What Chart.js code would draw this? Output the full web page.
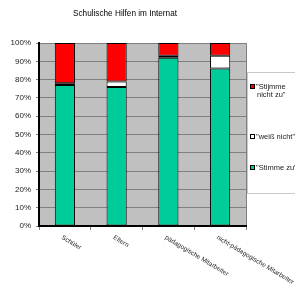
<!DOCTYPE html>
<html>
<head>
<meta charset="utf-8">
<script src="https://cdn.jsdelivr.net/npm/chart.js@4.4.0/dist/chart.umd.min.js"></script>
<style>
  html, body { margin: 0; padding: 0; background: #fff; }
  #wrap { width: 295px; height: 284px; position: relative; }
</style>
</head>
<body>
<div id="wrap"><canvas id="chart"></canvas></div>
<script>
// Daten
const kategorien = ['Schüler', 'Eltern', 'pädagogische Mitarbeiter', 'nicht-pädagogische Mitarbeiter'];
const stimmeZu = [77, 76, 92, 86];
const weissNicht = [1, 3, 1, 7];
const stimmeNichtZu = [22, 21, 7, 7];
const yTicks = ['0%', '10%', '20%', '30%', '40%', '50%', '60%', '70%', '80%', '90%', '100%'];
const legendeTexte = [['"Stijmme', 'nicht zu"'], ['"weiß nicht"'], ['"Stimme zu"']];
const titel = 'Schulische Hilfen im Internat';

const farben = {
    gruen: '#00cc99',
    weiss: '#ffffff',
    rot: '#ff0000',
    flaeche: '#c0c0c0',
    gitter: '#7f7f7f'
};

// Hintergrund der Zeichenfläche
const flaechePlugin = {
    id: 'flaeche',
    beforeDraw(chart) {
        const { ctx, chartArea: a } = chart;
        ctx.save();
        ctx.fillStyle = farben.flaeche;
        ctx.fillRect(a.left, a.top, a.right - a.left, a.bottom - a.top);
        ctx.strokeStyle = farben.gitter;
        ctx.lineWidth = 1;
        ctx.beginPath();
        ctx.moveTo(a.right + 0.5, a.top);
        ctx.lineTo(a.right + 0.5, a.bottom);
        ctx.stroke();
        ctx.restore();
    }
};

// Titel, schräge Kategorien und Legende
const textPlugin = {
    id: 'texte',
    afterDraw(chart) {
        const { ctx, chartArea: a } = chart;
        const x = chart.scales.x;
        ctx.save();
        ctx.fillStyle = '#000';

        // Titel (schmale Schrift)
        ctx.font = '9px "Liberation Sans", sans-serif';
        ctx.textAlign = 'center';
        ctx.textBaseline = 'middle';
        const breite = ctx.measureText(titel).width;
        ctx.save();
        ctx.translate(125, 14);
        ctx.scale(104 / breite, 1);
        ctx.fillText(titel, 0, 0);
        ctx.restore();

        ctx.font = '6.5px "Liberation Sans", sans-serif';
        ctx.fillStyle = '#222';
        ctx.textAlign = 'left';
        kategorien.forEach((k, i) => {
            ctx.save();
            ctx.translate(x.getPixelForValue(i) - 3, a.bottom + 11);
            ctx.rotate(31 * Math.PI / 180);
            ctx.fillText(k, 0, 0);
            ctx.restore();
        });

        // Legende
        ctx.strokeStyle = '#c8c8c8';
        ctx.lineWidth = 1;
        ctx.strokeRect(247.5, 72.5, 60, 121);
        const reihen = chart.data.datasets.slice().reverse();
        const posY = [87, 137, 168];
        ctx.font = '7.5px "Liberation Sans", sans-serif';
        ctx.textBaseline = 'middle';
        reihen.forEach((ds, i) => {
            const y = posY[i];
            ctx.fillStyle = ds.backgroundColor;
            ctx.fillRect(250, y - 2, 4, 4);
            ctx.strokeStyle = '#000';
            ctx.strokeRect(250.5, y - 2.5, 4, 4);
            ctx.fillStyle = '#222';
            legendeTexte[i].forEach((z, j) => {
                ctx.fillText(z, j === 0 ? 256 : 257, y + j * 8);
            });
        });
        ctx.restore();
    }
};

const datensatz = (label, data, farbe) => ({
    label: label,
    data: data,
    backgroundColor: farbe,
    borderColor: '#000',
    borderWidth: 1,
    borderSkipped: false,
    categoryPercentage: 1,
    barPercentage: 0.39
});

new Chart(document.getElementById('chart'), {
    type: 'bar',
    data: {
        labels: kategorien,
        datasets: [
            datensatz('"Stimme zu"', stimmeZu, farben.gruen),
            datensatz('"weiß nicht"', weissNicht, farben.weiss),
            datensatz('"Stijmme nicht zu"', stimmeNichtZu, farben.rot)
        ]
    },
    options: {
        responsive: true,
        maintainAspectRatio: false,
        animation: false,
        layout: { padding: { left: 0, top: 43, right: 49, bottom: 0 } },
        plugins: {
            legend: { display: false },
            title: { display: false },
            tooltip: { enabled: false }
        },
        scales: {
            x: {
                stacked: true,
                ticks: { display: false },
                grid: { drawOnChartArea: false, drawTicks: true, tickLength: 4, color: farben.gitter, offset: true },
                border: { color: '#000', width: 2 },
                afterFit: s => { s.height = 58; }
            },
            y: {
                stacked: true,
                min: 0,
                max: 100,
                ticks: {
                    stepSize: 10,
                    color: '#222',
                    padding: 5,
                    font: { family: '"Liberation Sans", sans-serif', size: 8 },
                    callback: (v, i) => yTicks[i]
                },
                grid: { color: farben.gitter, lineWidth: 1, drawTicks: true, tickLength: 3, tickColor: farben.gitter },
                border: { color: '#000', width: 2 },
                afterFit: s => { s.width = 39; }
            }
        }
    },
    plugins: [flaechePlugin, textPlugin]
});
</script>
</body>
</html>
